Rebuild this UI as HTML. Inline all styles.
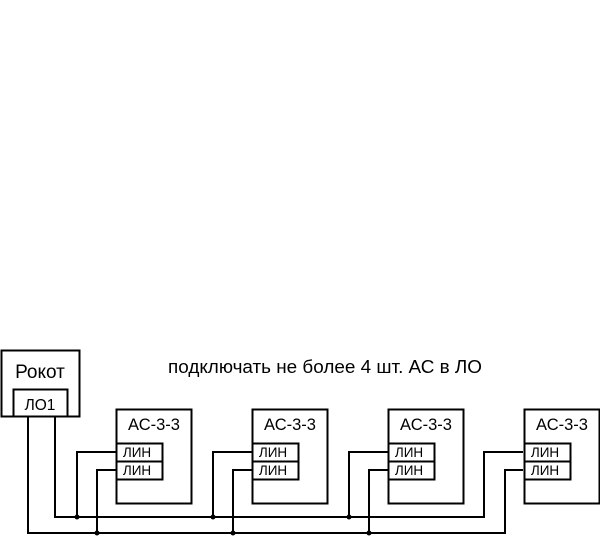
<!DOCTYPE html>
<html><head><meta charset="utf-8"><style>html,body{margin:0;padding:0;background:#fff}svg{display:block}</style></head>
<body>
<svg width="600" height="537" xmlns="http://www.w3.org/2000/svg" font-family="'Liberation Sans', Arial, sans-serif" fill="none" stroke="#000" stroke-width="2">
<rect x="1.5" y="350.5" width="78" height="66"/>
<rect x="13.5" y="389.5" width="54" height="27"/>
<g fill="#000" stroke="none">
<text x="40" y="378" font-size="19" text-anchor="middle">Рокот</text>
<text x="40" y="410" font-size="15.5" text-anchor="middle">ЛО1</text>
<text x="168" y="373" font-size="18" textLength="314" lengthAdjust="spacingAndGlyphs">подключать не более 4 шт. АС в ЛО</text>
</g>
<path d="M28 416V533H505V470H523M55 416V517H484V452H523"/>
<g id="b">
<rect x="116.5" y="409.5" width="75" height="94"/>
<rect x="116.5" y="443.5" width="46" height="18"/>
<rect x="116.5" y="461.5" width="46" height="18"/>
<g fill="#000" stroke="none">
<text x="154" y="430" font-size="16.5" text-anchor="middle">АС-3-3</text>
<text x="137" y="457" font-size="13.5" text-anchor="middle">ЛИН</text>
<text x="137" y="475" font-size="13.5" text-anchor="middle">ЛИН</text>
</g>
</g>
<use href="#b" x="136"/><use href="#b" x="272"/><use href="#b" x="408"/>
<g id="w">
<path d="M77 517V452H116M97 533V470H116"/>
<circle cx="77" cy="517" r="2.5" fill="#000" stroke="none"/>
<circle cx="97" cy="533" r="2.5" fill="#000" stroke="none"/>
</g>
<use href="#w" x="136"/><use href="#w" x="272"/>
</svg>
</body></html>
